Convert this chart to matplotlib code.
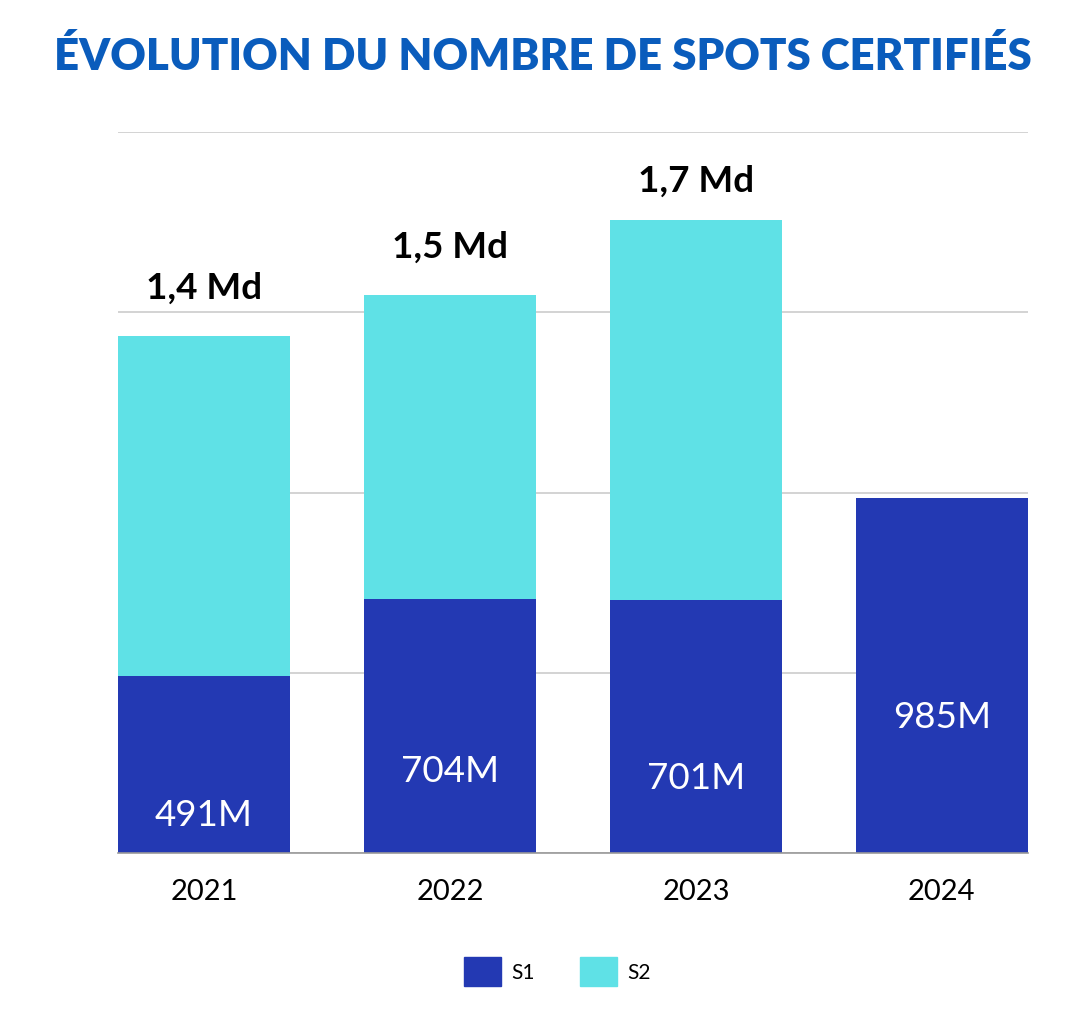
"""Évolution du nombre de spots certifiés, stacked bars S1 / S2."""

import matplotlib.pyplot as plt
from matplotlib.patches import Patch

plt.rcParams["font.family"] = ["Lato", "DejaVu Sans"]

YEARS = ["2021", "2022", "2023", "2024"]
S1 = [491, 704, 701, 985]  # millions
S2 = [942, 843, 1055, 0]
S1_LABELS = ["491M", "704M", "701M", "985M"]
TOTAL_LABELS = ["1,4 Md", "1,5 Md", "1,7 Md", None]
S1_LABEL_Y = [105, 225, 208, 375]
TOTAL_OFFSET = [23, 23, 16, 0]

COLOR_S1 = "#2339b3"
COLOR_S2 = "#5fe1e6"
TITLE_COLOR = "#0a5cbc"


def main() -> None:
    fig = plt.figure(figsize=(10.68, 10.24), dpi=100)
    ax = fig.add_axes([0.1105, 0.167, 0.852, 0.704])

    x = range(len(YEARS))
    ax.bar(x, S1, width=0.7, color=COLOR_S1, zorder=2)
    ax.bar(x, S2, width=0.7, bottom=S1, color=COLOR_S2, zorder=2)

    for i, (label, ypos) in enumerate(zip(S1_LABELS, S1_LABEL_Y)):
        ax.text(i, ypos, label, ha="center", va="center", color="white",
                fontsize=26.5, zorder=3)

    for i, label in enumerate(TOTAL_LABELS):
        if label is None:
            continue
        ax.annotate(label, (i, S1[i] + S2[i]), xytext=(0, TOTAL_OFFSET[i]),
                    textcoords="offset points", ha="center", va="bottom",
                    fontsize=26.5, fontweight="bold", color="black")

    ax.set_xlim(-0.35, 3.35)
    ax.set_ylim(0, 2000)
    ax.set_yticks([0, 500, 1000, 1500, 2000])
    ax.yaxis.grid(True, color="#cccccc", linewidth=1.2, zorder=0)
    ax.set_yticklabels([])
    ax.tick_params(axis="y", length=0)
    ax.tick_params(axis="x", length=0, pad=19, labelsize=21)
    ax.set_xticks(list(x))
    ax.set_xticklabels(YEARS)
    for side in ["top", "right", "left"]:
        ax.spines[side].set_visible(False)
    ax.spines["bottom"].set_color("#999999")
    ax.spines["bottom"].set_linewidth(1.2)

    fig.text(0.508, 0.945, "ÉVOLUTION DU NOMBRE DE SPOTS CERTIFIÉS",
             ha="center", va="center", fontsize=31.5, fontweight="heavy",
             color=TITLE_COLOR)

    handles = [Patch(color=COLOR_S1, label="S1"), Patch(color=COLOR_S2, label="S2")]
    fig.legend(handles=handles, loc="center", bbox_to_anchor=(0.522, 0.051),
               ncol=2, frameon=False, fontsize=15, handlelength=1.75,
               handleheight=1.75, handletextpad=0.5, columnspacing=2.2)

    fig.savefig("out.png", dpi=100)


if __name__ == "__main__":
    main()
